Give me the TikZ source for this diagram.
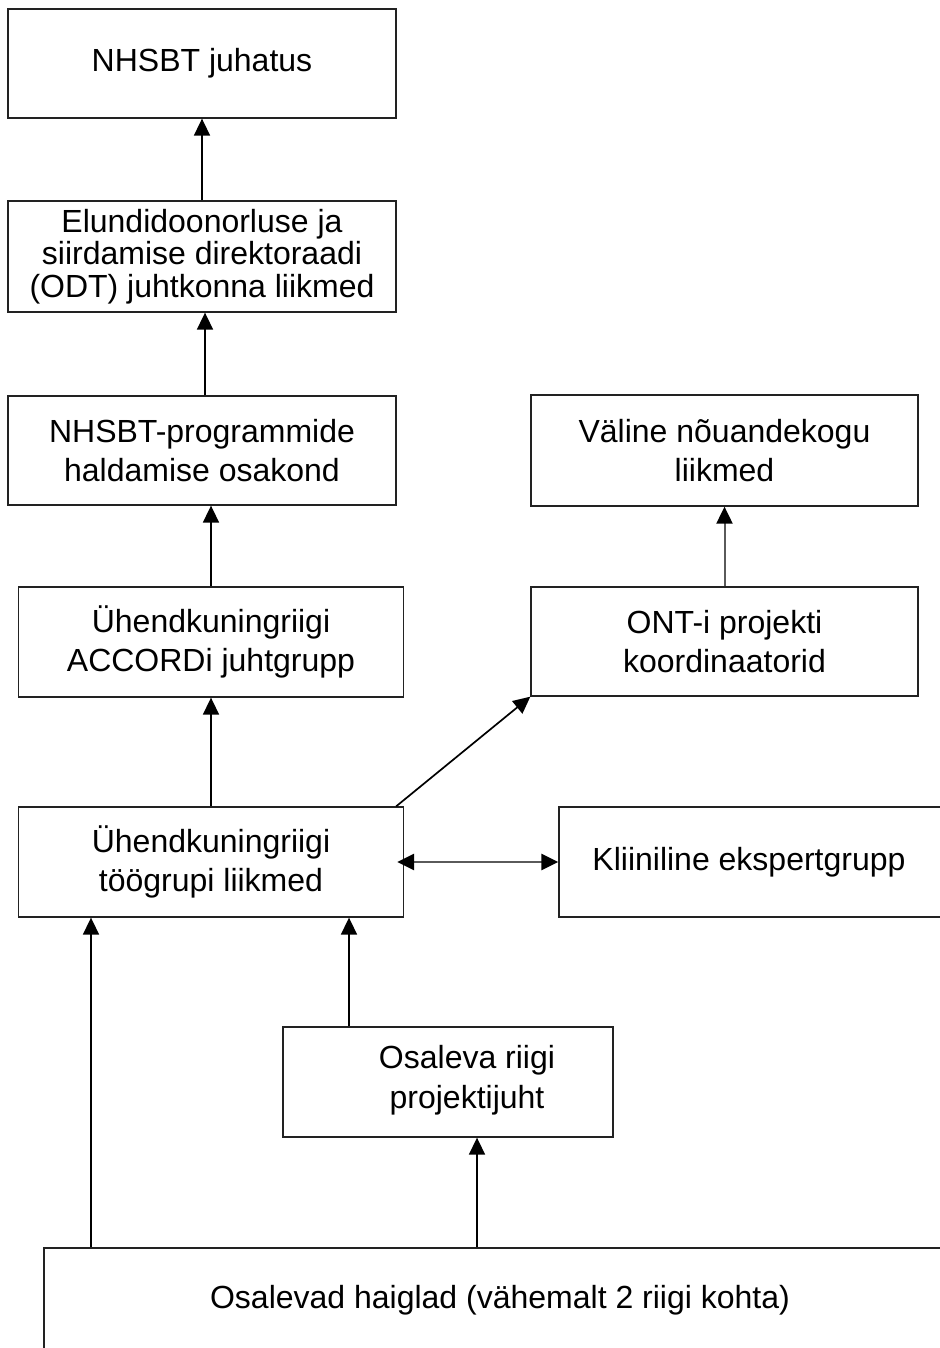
\documentclass[tikz,border=0pt]{standalone}
\usepackage{fontspec}
\setmainfont{Liberation Sans}
\usepackage{tikz}
\usetikzlibrary{arrows.meta,positioning,calc}
\usepackage{xcolor}

\definecolor{edge}{HTML}{222222}
\definecolor{greyline}{HTML}{5A5A5A}

\begin{document}
\begin{tikzpicture}[x=1pt,y=-1pt,
  box/.style={draw=edge, line width=1.3pt, rectangle, inner sep=0pt,
    align=center, font=\fontsize{32}{39}\selectfont},
  arr/.style={draw=black, line width=1.7pt,
    -{Triangle[length=17pt,width=16pt]}},
  greyarr/.style={draw=greyline, line width=2.2pt,
    -{Triangle[length=17pt,width=16pt,color=black]}}]

\useasboundingbox (0,0) rectangle (939,1348);

% Left column
\node[box, minimum width=388, minimum height=109] (juhatus) at (202,63.5) {NHSBT juhatus};
\node[box, minimum width=388, minimum height=111, font=\fontsize{32}{32.5}\selectfont] (odt) at (202,256.5)
  {Elundidoonorluse ja\\ siirdamise direktoraadi\\ (ODT) juhtkonna liikmed};
\node[box, minimum width=388, minimum height=109] (progr) at (202,450.5)
  {NHSBT-programmide\\ haldamise osakond};
\node[box, minimum width=385, minimum height=110] (accord) at (211,642)
  {Ühendkuningriigi\\ ACCORDi juhtgrupp};
\node[box, minimum width=385, minimum height=110] (tooryhm) at (211,862)
  {Ühendkuningriigi\\ töögrupi liikmed};

% Right column
\node[box, minimum width=387, minimum height=111] (valine) at (724.5,450.5)
  {Väline nõuandekogu\\ liikmed};
\node[box, minimum width=387, minimum height=109] (ont) at (724.5,641.5)
  {ONT-i projekti\\ koordinaatorid};
\node[box, minimum width=386, minimum height=110] (kliin) at (752,862)
  {\hspace*{-6pt}Kliiniline ekspertgrupp};

% Lower part
\node[box, minimum width=330, minimum height=110] (osaleva) at (448,1082) {};
\node[align=center, font=\fontsize{32}{40}\selectfont, inner sep=0pt] (osalevatxt) at (467,1080)
  {Osaleva riigi\\ projektijuht};
\node[box, minimum width=912, minimum height=104] (haiglad) at (500,1300)
  {Osalevad haiglad (vähemalt 2 riigi kohta)};

% Arrows
\draw[arr] (odt.north) -- (juhatus.south);
\draw[arr] ([xshift=3pt]progr.north) -- ([xshift=3pt]odt.south);
\draw[arr] (accord.north) -- (accord.north |- progr.south);
\draw[arr] (tooryhm.north) -- (accord.south);
\draw[greyarr, line width=2pt] (ont.north) -- (valine.south);
\draw[arr] ([xshift=-8pt]tooryhm.north east) -- (ont.south west);
\draw[greyarr, line width=2.6pt, {Triangle[length=17pt,width=16pt,color=black]}-{Triangle[length=17pt,width=16pt,color=black]}]
  ([xshift=-7pt]tooryhm.east) -- (kliin.west);
\draw[arr] ([xshift=-99pt]osaleva.north) -- ([xshift=-99pt]osaleva.north |- tooryhm.south);
\draw[arr] ([xshift=-409pt]haiglad.north) -- ([xshift=-409pt]haiglad.north |- tooryhm.south);
\draw[arr] ([xshift=-23pt]haiglad.north) -- ([xshift=-23pt]haiglad.north |- osaleva.south);

\end{tikzpicture}
\end{document}
